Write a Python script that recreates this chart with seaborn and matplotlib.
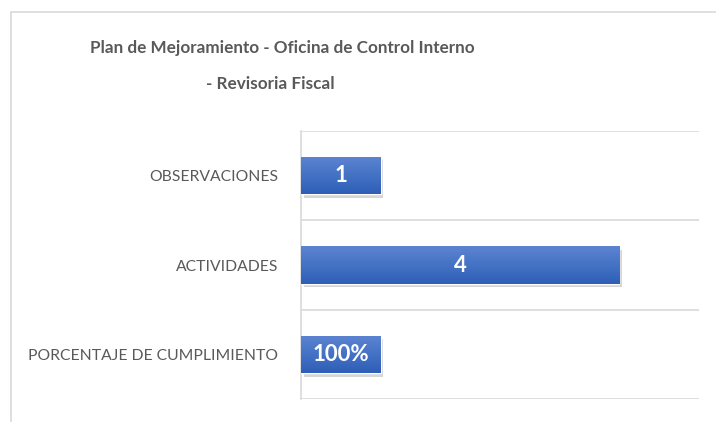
import numpy as np
import pandas as pd
import matplotlib
matplotlib.use("Agg")
import matplotlib.pyplot as plt
import matplotlib.patches as mpatches
import matplotlib.patheffects as pe
from matplotlib.colors import LinearSegmentedColormap
import seaborn as sns

# data
categories = ["OBSERVACIONES", "ACTIVIDADES", "PORCENTAJE DE CUMPLIMIENTO"]
values = [1, 4, 1.0]
value_labels = ["1", "4", "100%"]
title_lines = ["Plan de Mejoramiento - Oficina de Control Interno", "- Revisoria Fiscal"]

df = pd.DataFrame({"categoria": categories, "valor": values})

sns.set_theme(style="white")
plt.rcParams["font.family"] = ["Lato", "DejaVu Sans"]

W, H = 716, 422
fig = plt.figure(figsize=(W / 100, H / 100), dpi=100)
ax = fig.add_axes([301 / W, 1 - 399 / H, (699 - 301) / W, (399 - 131) / H])

sns.barplot(data=df, x="valor", y="categoria", orient="h", width=0.42,
            color="#4472C4", ax=ax, zorder=3)

# bar shadow + vertical gradient like the Excel style
grad = LinearSegmentedColormap.from_list("bar", ["#5d84d2", "#4472c4", "#2f5eb8"])
g = np.linspace(0, 1, 64).reshape(-1, 1)
for p in ax.patches:
    p.set_path_effects([pe.SimplePatchShadow(offset=(2, -2.5), shadow_rgbFace="#000000", alpha=0.16),
                        pe.Normal()])
    x0, y0 = p.get_x(), p.get_y()
    x1, y1 = x0 + p.get_width(), y0 + p.get_height()
    im = ax.imshow(g, cmap=grad, aspect="auto", extent=(x0, x1, y1, y0),
                   origin="upper", zorder=4, interpolation="bilinear")
    im.set_clip_path(p)

ax.set_xlim(0, 5)
ax.set_ylim(2.5, -0.5)

for i, txt in enumerate(value_labels):
    ax.text(values[i] / 2, i, txt, ha="center", va="center", color="white",
            fontsize=16, fontweight="bold", zorder=5)

# category boundary gridlines
ax.set_yticks([-0.5, 0.5, 1.5, 2.5], minor=True)
ax.grid(which="minor", axis="y", color="#d9d9d9", linewidth=1.2, zorder=0)
ax.tick_params(axis="y", which="minor", length=0)
ax.tick_params(axis="y", which="major", length=0, pad=16.5, labelsize=11.3, labelcolor="#595959")
ax.set_xticks([])
ax.set_xlabel("")
ax.set_ylabel("")
for s in ["top", "right", "bottom"]:
    ax.spines[s].set_visible(False)
ax.spines["left"].set_color("#d9d9d9")
ax.spines["left"].set_linewidth(1.2)

fig.text(282 / W, 1 - 48 / H, title_lines[0], ha="center", va="center",
         fontsize=12.3, fontweight="bold", color="#595959")
fig.text(270 / W, 1 - 84 / H, title_lines[1], ha="center", va="center",
         fontsize=12.3, fontweight="bold", color="#595959")

# chart area border
fig.patches.append(mpatches.Rectangle((10.5 / W, -0.2), 1.2, 1.2 - 12 / H,
                                      transform=fig.transFigure, fill=False,
                                      edgecolor="#d9d9d9", linewidth=1.2))

fig.savefig("out.png", dpi=100)
